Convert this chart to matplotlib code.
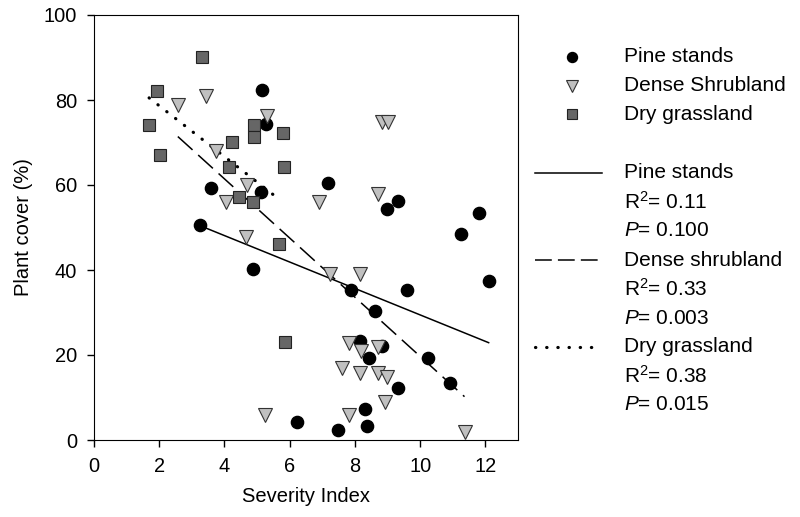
import matplotlib
matplotlib.use('Agg')
import matplotlib.pyplot as plt
from matplotlib.lines import Line2D

plt.rcParams['font.family'] = ['Liberation Sans', 'DejaVu Sans']
plt.rcParams['mathtext.fontset'] = 'custom'
plt.rcParams['mathtext.rm'] = 'Liberation Sans'
plt.rcParams['mathtext.it'] = 'Liberation Sans:italic'

# data
pine_x = [5.16, 5.26, 3.59, 5.11, 3.26, 4.89, 6.22, 7.17, 9.33, 8.98, 11.79, 11.26, 12.11,
          7.88, 9.59, 8.61, 8.16, 8.83, 8.42, 10.24, 10.91, 9.31, 8.32, 7.49, 8.36]
pine_y = [82.4, 74.4, 59.4, 58.4, 50.6, 40.2, 4.3, 60.5, 56.3, 54.4, 53.4, 48.4, 37.3,
          35.3, 35.3, 30.4, 23.3, 22.2, 19.4, 19.4, 13.3, 12.3, 7.3, 2.35, 3.3]

shrub_x = [2.57, 3.44, 5.31, 3.73, 4.70, 4.05, 4.67, 5.23, 8.82, 9.02, 6.89, 8.71, 7.24,
           8.16, 7.83, 8.18, 8.70, 7.60, 8.16, 8.72, 8.99, 8.93, 7.81, 11.36]
shrub_y = [78.8, 80.9, 76.2, 68.1, 60.0, 56.0, 47.8, 5.9, 74.9, 74.9, 55.9, 57.9, 39.0,
           39.0, 22.9, 20.9, 22.0, 16.9, 15.8, 15.8, 14.9, 9.0, 5.9, 1.8]

grass_x = [3.31, 1.93, 1.69, 2.01, 4.22, 4.91, 4.91, 5.80, 4.14, 5.82, 4.46, 4.86, 5.67, 5.85]
grass_y = [90.2, 82.1, 74.1, 67.1, 70.2, 74.1, 71.2, 72.2, 64.2, 64.2, 57.1, 56.1, 46.1, 23.0]

# regression line end points
pine_fit_x = [3.26, 12.1]
pine_fit_y = [50.4, 22.9]
shrub_fit_x = [2.57, 11.36]
shrub_fit_y = [71.4, 10.2]
grass_fit_x = [1.69, 5.65]
grass_fit_y = [80.5, 56.8]

fit_labels = [('Pine stands', 'R$^2$= 0.11', '$P$= 0.100'),
              ('Dense shrubland', 'R$^2$= 0.33', '$P$= 0.003'),
              ('Dry grassland', 'R$^2$= 0.38', '$P$= 0.015')]

fig = plt.figure(figsize=(8, 5.17), dpi=100)
ax = fig.add_axes([94 / 800, 77 / 517, 424 / 800, 425 / 517])

dash = (0, (13, 5))
dots = (0, (0.1, 3.4))

ax.plot(pine_fit_x, pine_fit_y, color='k', lw=1.1, ls='-', zorder=2)
ax.plot(shrub_fit_x, shrub_fit_y, color='k', lw=1.1, ls=dash, zorder=2)
ax.plot(grass_fit_x, grass_fit_y, color='k', lw=2.3, ls=dots, dash_capstyle='round', zorder=2)

ax.plot(pine_x, pine_y, 'o', color='k', ms=8.8, zorder=3)
ax.plot(shrub_x, shrub_y, 'v', mfc='#c0c0c0', mec='#333333', mew=0.8, ms=9.6, zorder=3)
ax.plot(grass_x, grass_y, 's', mfc='#666666', mec='#222222', mew=0.8, ms=8.5, zorder=3)

ax.set_xlim(0, 13)
ax.set_ylim(0, 100)
ax.set_xticks(range(0, 13, 2))
ax.set_yticks(range(0, 101, 20))
ax.tick_params(direction='out', length=5, width=1, labelsize=14.4, pad=7, top=False, right=False)
ax.set_xlabel('Severity Index', fontsize=14.5, labelpad=8)
ax.set_ylabel('Plant cover (%)', fontsize=14.5, labelpad=8)

# marker legend
mx, tx = 571.7 / 800, 624 / 800
rows = [(56.7, 'o', dict(color='k', ms=7.2), 'Pine stands'),
        (85.7, 'v', dict(mfc='#c0c0c0', mec='#333333', mew=0.8, ms=8), 'Dense Shrubland'),
        (114, 's', dict(mfc='#666666', mec='#222222', mew=0.8, ms=7), 'Dry grassland')]
for y, m, kw, lab in rows:
    yf = 1 - y / 517
    fig.add_artist(Line2D([mx], [yf], marker=m, ls='none', **kw))
    fig.text(tx, yf, lab, fontsize=15, va='center', ha='left')

# regression legend
styles = [dict(ls='-', lw=1.1), dict(ls=(0, (11, 4)), lw=1.1),
          dict(ls=dots, lw=2.3, dash_capstyle='round')]
y0, step = 173, 29
for i, (lab, r2, p) in enumerate(fit_labels):
    y = y0 + i * 3 * step
    yf = 1 - y / 517
    fig.add_artist(Line2D([535 / 800, 602 / 800], [yf, yf], color='k', **styles[i]))
    fig.text(tx, yf, lab, fontsize=15, va='center', ha='left')
    fig.text(tx, 1 - (y + step) / 517, r2, fontsize=15, va='center', ha='left')
    fig.text(tx, 1 - (y + 2 * step) / 517, p, fontsize=15, va='center', ha='left')

fig.savefig('out.png', dpi=100)
